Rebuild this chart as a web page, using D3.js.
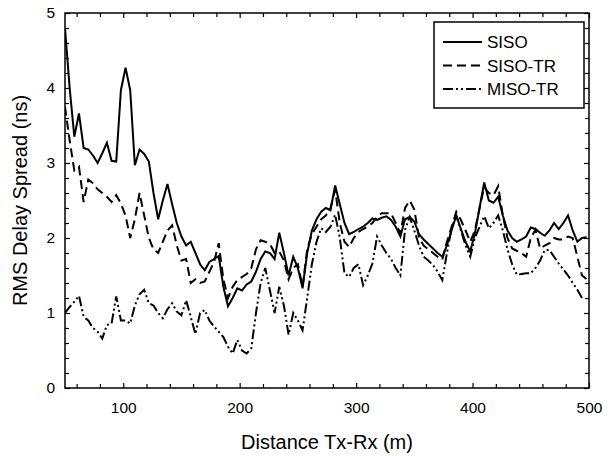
<!DOCTYPE html>
<html><head><meta charset="utf-8">
<script src="https://cdn.jsdelivr.net/npm/d3@7"></script>
<style>
body{margin:0;background:#fff}
svg{display:block}
text{font-family:"Liberation Sans",Arial,sans-serif;fill:#000}
</style>
</head><body>
<svg id="chart" width="611" height="456"></svg>
<script>
const distance = [50,54,58,62,66,70,74,78,82,86,90,94,98,102,106,110,114,118,122,126,130,134,138,142,146,150,154,158,162,166,170,174,178,182,186,190,194,198,202,206,210,214,218,222,226,230,234,238,242,246,250,254,258,262,266,270,274,278,282,286,290,294,298,302,306,310,314,318,322,326,330,334,338,342,346,350,354,358,362,366,370,374,378,382,386,390,394,398,402,406,410,414,418,422,426,430,434,438,442,446,450,454,458,462,466,470,474,478,482,486,490,494,498];
const siso = [4.8,4.0,3.35,3.66,3.2,3.18,3.1,3.0,3.13,3.27,
  3.03,3.02,3.97,4.27,3.97,2.97,3.18,3.12,3.02,2.6,
  2.25,2.5,2.72,2.45,2.2,2.02,1.9,1.95,1.8,1.65,
  1.57,1.68,1.72,1.76,1.35,1.09,1.2,1.33,1.3,1.38,
  1.42,1.55,1.72,1.82,1.8,1.72,2.07,1.8,1.5,1.75,
  1.6,1.33,1.8,2.1,2.25,2.35,2.4,2.37,2.7,2.45,
  2.2,2.05,2.08,2.12,2.15,2.2,2.26,2.24,2.27,2.29,
  2.24,2.15,2.02,2.25,2.28,2.22,2.05,1.98,1.92,1.86,
  1.8,1.75,1.9,2.1,2.3,2.12,1.95,1.82,2.06,2.4,
  2.74,2.5,2.47,2.55,2.3,2.1,2.0,1.95,1.98,2.02,
  2.14,2.12,2.07,2.03,2.1,2.2,2.12,2.2,2.3,2.1,
  1.95,2.0,2.01];
const sisoTR = [3.75,3.3,2.9,2.95,2.48,2.78,2.73,2.65,2.6,2.55,
  2.48,2.57,2.46,2.3,2.0,2.25,2.6,2.3,2.0,1.85,
  1.8,1.95,2.1,2.17,1.9,1.7,1.72,1.4,1.45,1.4,
  1.42,1.55,1.68,1.93,1.45,1.2,1.35,1.44,1.48,1.52,
  1.6,1.85,1.97,1.95,1.92,1.8,1.82,1.7,1.45,1.6,
  1.65,1.35,1.85,2.05,2.15,2.25,2.3,2.4,2.64,2.2,
  1.95,1.88,2.0,2.08,2.12,2.15,2.2,2.28,2.33,2.33,
  2.33,2.2,2.06,2.4,2.5,2.38,2.0,1.9,1.85,1.8,
  1.75,1.71,1.95,2.15,2.35,2.24,2.1,1.95,2.1,2.4,
  2.68,2.6,2.57,2.69,2.3,2.0,1.86,1.83,1.8,1.75,
  2.0,2.11,1.86,1.9,1.93,2.0,1.98,1.98,2.02,2.0,
  1.75,1.5,1.45];
const misoTR = [1.0,1.08,1.15,1.23,0.95,0.9,0.8,0.75,0.66,0.84,
  0.86,1.22,0.9,0.9,0.86,1.1,1.25,1.31,1.13,1.1,
  1.0,0.93,1.05,1.13,1.02,0.97,1.17,0.95,0.72,1.0,
  1.04,0.9,0.82,0.75,0.68,0.55,0.46,0.64,0.5,0.46,
  0.53,1.0,1.4,1.6,1.3,1.0,1.35,1.1,0.71,1.0,
  0.9,0.77,1.2,1.65,1.95,2.13,2.08,2.15,2.31,2.0,
  1.53,1.48,1.6,1.65,1.37,1.5,1.66,2.02,1.9,1.8,
  1.72,1.6,1.5,2.11,2.28,2.1,1.9,1.75,1.7,1.64,
  1.55,1.44,1.8,2.13,2.3,2.1,1.9,1.75,2.0,2.15,
  2.29,2.13,2.2,2.3,2.1,1.85,1.65,1.51,1.52,1.53,
  1.53,1.6,1.7,1.84,1.84,1.75,1.66,1.58,1.5,1.4,
  1.31,1.2,null];
const seriesNames = ["SISO","SISO-TR","MISO-TR"];
const xTickLabels = [100,200,300,400,500];
const yTickLabels = [0,1,2,3,4,5];
const xTitle = "Distance Tx-Rx (m)";
const yTitle = "RMS Delay Spread (ns)";

const svg = d3.select("#chart");
const L = 65, R = 589, T = 13, B = 388;
const x = d3.scaleLinear().domain([50,500]).range([L,R]);
const y = d3.scaleLinear().domain([0,5]).range([B,T]);

const xMinor = d3.range(60,500,20).filter(v => v % 100 !== 0);
const yMinor = d3.range(0.2,5,0.2).filter(v => Math.abs(v - Math.round(v)) > 1e-6);

function styleAxis(g){
  g.select(".domain").remove();
  g.selectAll(".tick line").attr("stroke","#000").attr("stroke-width",1.2);
  g.selectAll(".tick text").attr("font-size","15.5px").attr("font-family","'Liberation Sans',Arial,sans-serif").attr("fill","#000");
}
// bottom
svg.append("g").attr("transform",`translate(0,${B})`)
  .call(d3.axisBottom(x).tickValues(xMinor).tickSize(-4).tickFormat("")).call(styleAxis);
svg.append("g").attr("transform",`translate(0,${B})`)
  .call(d3.axisBottom(x).tickValues(xTickLabels).tickSize(-5).tickPadding(14).tickFormat(d3.format("d"))).call(styleAxis);
// top
svg.append("g").attr("transform",`translate(0,${T})`)
  .call(d3.axisTop(x).tickValues(xMinor).tickSize(-4).tickFormat("")).call(styleAxis);
svg.append("g").attr("transform",`translate(0,${T})`)
  .call(d3.axisTop(x).tickValues(xTickLabels).tickSize(-5).tickFormat("")).call(styleAxis);
// left
svg.append("g").attr("transform",`translate(${L},0)`)
  .call(d3.axisLeft(y).tickValues(yMinor).tickSize(-4).tickFormat("")).call(styleAxis);
svg.append("g").attr("transform",`translate(${L},0)`)
  .call(d3.axisLeft(y).tickValues(yTickLabels).tickSize(-5).tickPadding(10).tickFormat(d3.format("d"))).call(styleAxis);
// right
svg.append("g").attr("transform",`translate(${R},0)`)
  .call(d3.axisRight(y).tickValues(yMinor).tickSize(-4).tickFormat("")).call(styleAxis);
svg.append("g").attr("transform",`translate(${R},0)`)
  .call(d3.axisRight(y).tickValues(yTickLabels).tickSize(-5).tickFormat("")).call(styleAxis);

// frame
svg.append("rect").attr("x",L).attr("y",T).attr("width",R-L).attr("height",B-T)
  .attr("fill","none").attr("stroke","#000").attr("stroke-width",1.5);

const styles = [
  {data: siso, dash: null},
  {data: sisoTR, dash: "9,5"},
  {data: misoTR, dash: "10,3,2,3,2,3"}
];
const line = d3.line().defined(d => d != null)
  .x((d,i) => x(distance[i])).y(d => y(d));
svg.append("defs").append("clipPath").attr("id","clip")
  .append("rect").attr("x",L).attr("y",T).attr("width",R-L).attr("height",B-T);
const plot = svg.append("g").attr("clip-path","url(#clip)");
styles.forEach(s => {
  plot.append("path").datum(s.data).attr("d", line)
    .attr("fill","none").attr("stroke","#000").attr("stroke-width",2)
    .attr("stroke-linejoin","miter").attr("stroke-dasharray", s.dash);
});

// legend
const lg = svg.append("g");
lg.append("rect").attr("x",434).attr("y",22).attr("width",150).attr("height",86)
  .attr("fill","#fff").attr("stroke","#000").attr("stroke-width",1.5);
const legY = d3.scalePoint().domain(seriesNames).range([42,89]);
seriesNames.forEach((n,i) => {
  lg.append("line").attr("x1",443).attr("x2",482).attr("y1",legY(n)).attr("y2",legY(n))
    .attr("stroke","#000").attr("stroke-width",2).attr("stroke-dasharray", styles[i].dash);
  lg.append("text").attr("x",487).attr("y",legY(n)+6).attr("font-size","17px").text(n);
});

// titles
svg.append("text").attr("x",(L+R)/2).attr("y",449).attr("text-anchor","middle")
  .attr("font-size","20px").text(xTitle);
svg.append("text").attr("transform",`translate(27,${(T+B)/2}) rotate(-90)`)
  .attr("text-anchor","middle").attr("font-size","20px").text(yTitle);
</script>
</body></html>
